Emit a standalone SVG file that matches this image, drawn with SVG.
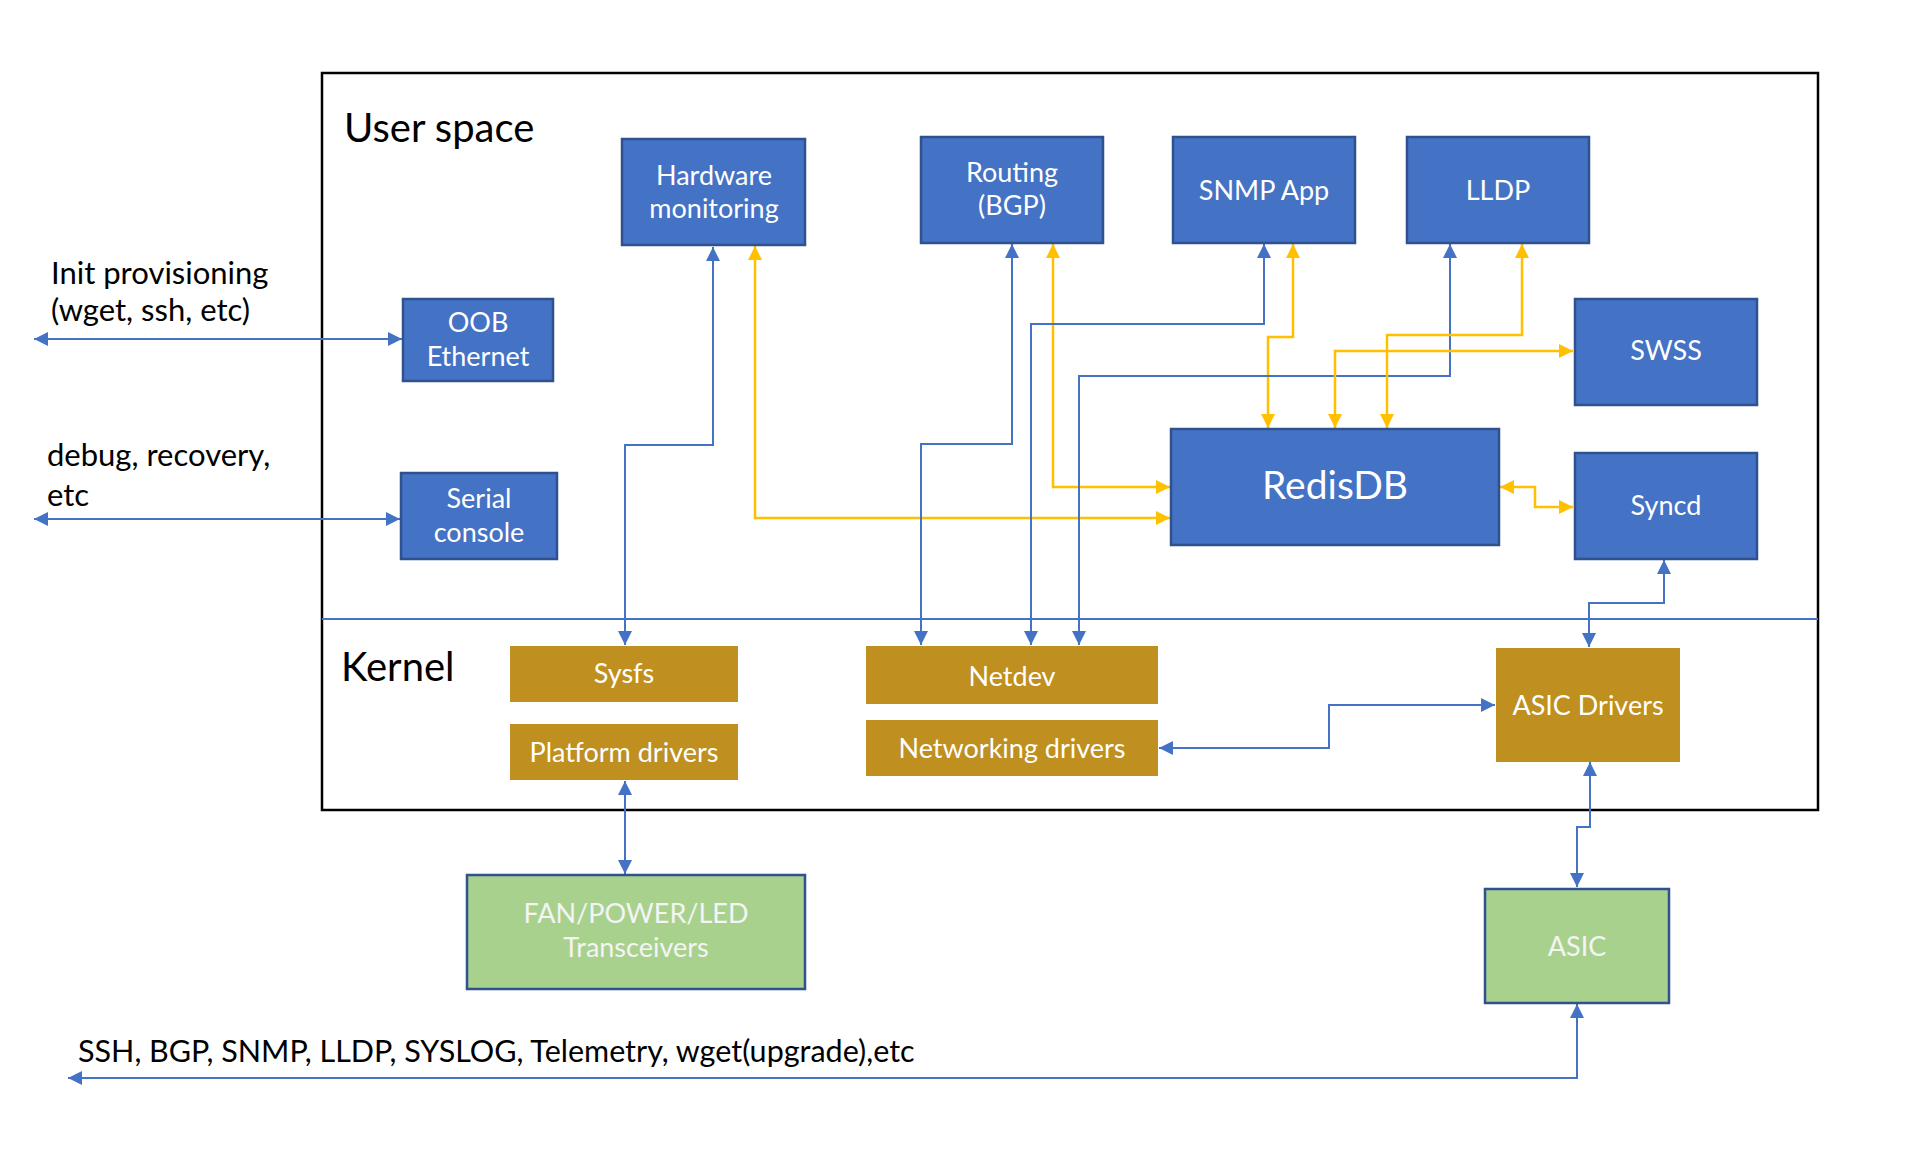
<svg xmlns="http://www.w3.org/2000/svg" width="1916" height="1166" viewBox="0 0 1916 1166">
<defs>
<style>
.blue rect{fill:#4472C4;stroke:#2F528F;stroke-width:2.5}
.gold rect{fill:#BF8F1F}
.green rect{fill:#A9D18E;stroke:#2F528F;stroke-width:2.5}
text{font-family:Lato,"Open Sans","Liberation Sans",sans-serif}
.nt{fill:#FFFFFF;font-size:27px;text-anchor:middle}
.gt{fill:#F4F4F4;font-size:27px;text-anchor:middle}
.lbl{fill:#000000;font-size:31px}
.big{fill:#000000;font-size:40px}
.cb{fill:none;stroke:#4472C4;stroke-width:2;marker-start:url(#ab);marker-end:url(#ab)}
.cy{fill:none;stroke:#FFC000;stroke-width:2.5;marker-start:url(#ay);marker-end:url(#ay)}
</style>
<marker id="ab" markerUnits="userSpaceOnUse" markerWidth="15" markerHeight="15" refX="14" refY="7.5" orient="auto-start-reverse"><path d="M0,0.5 L14,7.5 L0,14.5 z" fill="#4472C4"/></marker>
<marker id="ay" markerUnits="userSpaceOnUse" markerWidth="15" markerHeight="15" refX="14" refY="7.5" orient="auto-start-reverse"><path d="M0,0.5 L14,7.5 L0,14.5 z" fill="#FFC000"/></marker>
</defs>
<rect width="1916" height="1166" fill="#FFFFFF"/>
<g id="frame">
<rect x="322" y="73" width="1496" height="737" fill="none" stroke="#000000" stroke-width="2.5"/>
<line x1="322" y1="619" x2="1818" y2="619" stroke="#4472C4" stroke-width="2"/>
<text class="big" x="344" y="142">User space</text>
<text class="big" x="341" y="681">Kernel</text>
</g>
<g id="labels">
<text class="lbl" x="51" y="284">Init provisioning</text>
<text class="lbl" x="51" y="321">(wget, ssh, etc)</text>
<text class="lbl" x="47" y="466">debug, recovery,</text>
<text class="lbl" x="47" y="506">etc</text>
<text class="lbl" x="78" y="1062" style="font-size:30.5px">SSH, BGP, SNMP, LLDP, SYSLOG, Telemetry, wget(upgrade),etc</text>
</g>
<g id="connectors">
<path class="cb" d="M34,339 H402"/>
<path class="cb" d="M34,519 H400"/>
<path class="cb" d="M713,247 V445 H625 V645"/>
<path class="cy" d="M755,246 V518 H1170"/>
<path class="cb" d="M1012,244 V444 H921 V645"/>
<path class="cy" d="M1053,244 V487 H1170"/>
<path class="cb" d="M1264,244 V324 H1031 V645"/>
<path class="cy" d="M1293,244 V337 H1268 V428"/>
<path class="cb" d="M1450,244 V376 H1079 V645"/>
<path class="cy" d="M1522,244 V335 H1387 V428"/>
<path class="cy" d="M1335,428 V351 H1573"/>
<path class="cy" d="M1500,487 H1535 V507 H1573"/>
<path class="cb" d="M1664,560 V603 H1589 V647"/>
<path class="cb" d="M1495,705 H1329 V748 H1159"/>
<path class="cb" d="M1590,762 V827 H1577 V887"/>
<path class="cb" d="M1577,1004 V1078 H68"/>
<path class="cb" d="M625,781 V874"/>
</g>
<g id="hw" class="blue"><rect x="622" y="139" width="183" height="106"/><text class="nt" x="714" y="185">Hardware</text><text class="nt" x="714" y="218">monitoring</text></g>
<g id="routing" class="blue"><rect x="921" y="137" width="182" height="106"/><text class="nt" x="1012" y="182">Routing</text><text class="nt" x="1012" y="215">(BGP)</text></g>
<g id="snmp" class="blue"><rect x="1173" y="137" width="182" height="106"/><text class="nt" x="1264" y="200">SNMP App</text></g>
<g id="lldp" class="blue"><rect x="1407" y="137" width="182" height="106"/><text class="nt" x="1498" y="200">LLDP</text></g>
<g id="swss" class="blue"><rect x="1575" y="299" width="182" height="106"/><text class="nt" x="1666" y="360">SWSS</text></g>
<g id="redisdb" class="blue"><rect x="1171" y="429" width="328" height="116"/><text class="nt" x="1335" y="499" style="font-size:39px">RedisDB</text></g>
<g id="syncd" class="blue"><rect x="1575" y="453" width="182" height="106"/><text class="nt" x="1666" y="515">Syncd</text></g>
<g id="oob" class="blue"><rect x="403" y="299" width="150" height="82"/><text class="nt" x="478" y="332">OOB</text><text class="nt" x="478" y="366">Ethernet</text></g>
<g id="serial" class="blue"><rect x="401" y="473" width="156" height="86"/><text class="nt" x="479" y="508">Serial</text><text class="nt" x="479" y="542">console</text></g>
<g id="sysfs" class="gold"><rect x="510" y="646" width="228" height="56"/><text class="nt" x="624" y="683">Sysfs</text></g>
<g id="platform" class="gold"><rect x="510" y="724" width="228" height="56"/><text class="nt" x="624" y="762">Platform drivers</text></g>
<g id="netdev" class="gold"><rect x="866" y="646" width="292" height="58"/><text class="nt" x="1012" y="686">Netdev</text></g>
<g id="netdrivers" class="gold"><rect x="866" y="720" width="292" height="56"/><text class="nt" x="1012" y="758">Networking drivers</text></g>
<g id="asicdrivers" class="gold"><rect x="1496" y="648" width="184" height="114"/><text class="nt" x="1588" y="715">ASIC Drivers</text></g>
<g id="fan" class="green"><rect x="467" y="875" width="338" height="114"/><text class="gt" x="636" y="923">FAN/POWER/LED</text><text class="gt" x="636" y="957">Transceivers</text></g>
<g id="asic" class="green"><rect x="1485" y="889" width="184" height="114"/><text class="gt" x="1577" y="956">ASIC</text></g>
</svg>
